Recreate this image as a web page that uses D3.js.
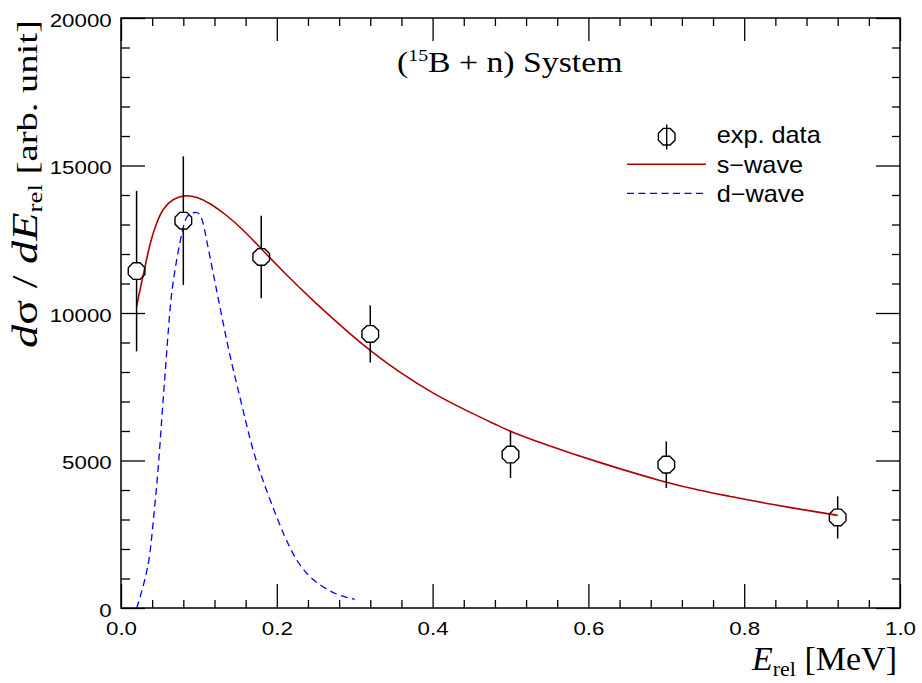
<!DOCTYPE html>
<html>
<head>
<meta charset="utf-8">
<script src="https://cdn.jsdelivr.net/npm/d3@7"></script>
<style>
  html, body { margin: 0; padding: 0; background: #fff; }
  svg { display: block; }
</style>
</head>
<body>
<svg id="chart" width="922" height="683"></svg>
<script>
// ---------------- data ----------------
const expX   = [0.02, 0.08, 0.18, 0.32, 0.50, 0.70, 0.92];
const expY   = [11420, 13130, 11900, 9290, 5200, 4860, 3070];
const expErr = [2720, 2180, 1400, 970, 790, 790, 715];

const sWaveX = [0.020, 0.0244, 0.0308, 0.0372, 0.0458, 0.0542, 0.0671, 0.0821, 0.0971, 0.1141,
                0.1355, 0.1568, 0.1760, 0.2081, 0.2509, 0.2936, 0.3201, 0.3577, 0.4004, 0.4432,
                0.4859, 0.5000, 0.5458, 0.6099, 0.6996, 0.7423, 0.7808, 0.8278, 0.9200];
const sWaveY = [10214, 10800, 11550, 12380, 13080, 13560, 13880, 14000, 13940, 13730,
                13320, 12820, 12290, 11400, 10300, 9300, 8720, 7980, 7270, 6690,
                6160, 5980, 5530, 4960, 4250, 3990, 3790, 3540, 3140];

const dWaveX = [0.0201, 0.0222, 0.0308, 0.0372, 0.0415, 0.0479, 0.0521, 0.0564, 0.0628, 0.0671,
                0.0735, 0.0799, 0.0842, 0.0949, 0.1034, 0.1098, 0.1184, 0.1269, 0.1355, 0.1440,
                0.1568, 0.1696, 0.1910, 0.2167, 0.2337, 0.2509, 0.2765, 0.3000];
const dWaveY = [0, 159, 949, 1739, 2983, 4678, 6373, 7841, 10214, 11119,
                12136, 12925, 13322, 13434, 13379, 12475, 11346, 10214, 9085, 8068,
                6712, 5244, 3661, 1966, 1288, 837, 441, 294];

const xTicks = [0, 0.2, 0.4, 0.6, 0.8, 1.0];
const xTickLabels = ["0.0", "0.2", "0.4", "0.6", "0.8", "1.0"];
const yTicks = [0, 5000, 10000, 15000, 20000];
const yTickLabels = ["0", "5000", "10000", "15000", "20000"];
const legendLabels = ["exp. data", "s\u2212wave", "d\u2212wave"];

// ---------------- setup ----------------
const svg = d3.select("#chart");
svg.append("rect").attr("width", 922).attr("height", 683).attr("fill", "#fff");

const pL = 121, pR = 900, pT = 18, pB = 608;
const x = d3.scaleLinear().domain([0, 1]).range([pL, pR]);
const y = d3.scaleLinear().domain([0, 20000]).range([pB, pT]);

const sansFont = "'Liberation Sans', Arial, Helvetica, sans-serif";
const serifFont = "'Liberation Serif', 'Times New Roman', Times, serif";

const xMinor = d3.range(0, 1.0001, 0.04).filter(v => Math.abs(v / 0.2 - Math.round(v / 0.2)) > 1e-6);
const yMinor = d3.range(0, 20001, 1000).filter(v => v % 5000 !== 0);

function styleAxis(g) {
  g.select(".domain").remove();
  g.selectAll(".tick line").attr("stroke", "#000").attr("stroke-width", 1.3);
}

// bottom axis (major with labels)
const gBottom = svg.append("g").attr("transform", `translate(0,${pB})`)
  .call(d3.axisBottom(x).tickValues(xTicks).tickSize(-24).tickPadding(14.2)
    .tickFormat((d, i) => xTickLabels[i]));
styleAxis(gBottom);
gBottom.selectAll(".tick text").attr("font-family", sansFont).attr("font-size", 18)
  .attr("fill", "#000").attr("transform", "scale(1.24,1)");
svg.append("g").attr("transform", `translate(0,${pB})`)
  .call(d3.axisBottom(x).tickValues(xMinor).tickSize(-8).tickFormat("")).call(styleAxis);

// top axis
svg.append("g").attr("transform", `translate(0,${pT})`)
  .call(d3.axisTop(x).tickValues(xTicks).tickSize(-23).tickFormat("")).call(styleAxis);
svg.append("g").attr("transform", `translate(0,${pT})`)
  .call(d3.axisTop(x).tickValues(xMinor).tickSize(-8).tickFormat("")).call(styleAxis);

// left axis
const gLeft = svg.append("g").attr("transform", `translate(${pL},0)`)
  .call(d3.axisLeft(y).tickValues(yTicks).tickSize(-24).tickPadding(7.5)
    .tickFormat((d, i) => yTickLabels[i]));
styleAxis(gLeft);
gLeft.selectAll(".tick text").attr("font-family", sansFont).attr("font-size", 18)
  .attr("fill", "#000").attr("dy", "0.45em").attr("transform", "scale(1.24,1)");
svg.append("g").attr("transform", `translate(${pL},0)`)
  .call(d3.axisLeft(y).tickValues(yMinor).tickSize(-9).tickFormat("")).call(styleAxis);

// right axis
svg.append("g").attr("transform", `translate(${pR},0)`)
  .call(d3.axisRight(y).tickValues(yTicks).tickSize(-24).tickFormat("")).call(styleAxis);
svg.append("g").attr("transform", `translate(${pR},0)`)
  .call(d3.axisRight(y).tickValues(yMinor).tickSize(-8).tickFormat("")).call(styleAxis);

// frame
svg.append("rect").attr("x", pL).attr("y", pT).attr("width", pR - pL).attr("height", pB - pT)
  .attr("fill", "none").attr("stroke", "#000").attr("stroke-width", 1.5);

// ---------------- curves ----------------
const line = d3.line().x(d => x(d[0])).y(d => y(d[1])).curve(d3.curveBasis);
svg.append("path").datum(dWaveX.map((v, i) => [v, dWaveY[i]]))
  .attr("d", line).attr("fill", "none").attr("stroke", "#0000ff")
  .attr("stroke-width", 1.3).attr("stroke-dasharray", "7,4.5");
svg.append("path").datum(sWaveX.map((v, i) => [v, sWaveY[i]]))
  .attr("d", line).attr("fill", "none").attr("stroke", "#b00000").attr("stroke-width", 1.6);

// ---------------- data points ----------------
const R = 9.0;
const flat = R * Math.cos(Math.PI / 8);
function octagon(r) {
  const p = d3.range(8).map(k => {
    const a = Math.PI / 8 + k * Math.PI / 4;
    return [r * Math.cos(a), r * Math.sin(a)];
  });
  return "M" + p.map(q => q.join(",")).join("L") + "Z";
}
const ptsG = svg.append("g");
expX.forEach((xv, i) => {
  const cx = x(xv), cy = y(expY[i]);
  const yt = y(expY[i] + expErr[i]), yb = y(expY[i] - expErr[i]);
  ptsG.append("line").attr("x1", cx).attr("x2", cx).attr("y1", yt).attr("y2", cy - flat)
    .attr("stroke", "#000").attr("stroke-width", 1.5);
  ptsG.append("line").attr("x1", cx).attr("x2", cx).attr("y1", cy + flat).attr("y2", yb)
    .attr("stroke", "#000").attr("stroke-width", 1.5);
  ptsG.append("path").attr("d", octagon(R)).attr("transform", `translate(${cx},${cy})`)
    .attr("fill", "none").attr("stroke", "#000").attr("stroke-width", 1.4);
});

// ---------------- legend ----------------
const lg = svg.append("g");
lg.append("line").attr("x1", 666.7).attr("x2", 666.7).attr("y1", 124.5).attr("y2", 149.5)
  .attr("stroke", "#000").attr("stroke-width", 1.4);
lg.append("path").attr("d", octagon(R)).attr("transform", "translate(666.7,136.7)")
  .attr("fill", "none").attr("stroke", "#000").attr("stroke-width", 1.4);
lg.append("line").attr("x1", 627).attr("x2", 706).attr("y1", 164.3).attr("y2", 164.3)
  .attr("stroke", "#b00000").attr("stroke-width", 1.6);
lg.append("line").attr("x1", 627).attr("x2", 706).attr("y1", 193.3).attr("y2", 193.3)
  .attr("stroke", "#0000ff").attr("stroke-width", 1.3).attr("stroke-dasharray", "7,4.5");
const lgY = [143, 172.5, 201.5];
legendLabels.forEach((t, i) => {
  lg.append("g").attr("transform", `translate(716.7,${lgY[i]})`)
    .append("text").attr("font-family", sansFont).attr("font-size", 23).attr("fill", "#000")
    .attr("transform", "scale(1.1,1)").text(t);
});

// ---------------- titles ----------------
function fitWidth(textSel, target) {
  const w = textSel.node().getBBox().width;
  textSel.attr("transform", `scale(${target / w},1)`);
}

// main title
const tg = svg.append("g").attr("transform", "translate(397,72)");
const tt = tg.append("text").attr("font-family", serifFont).attr("font-size", 29).attr("fill", "#000");
tt.append("tspan").text("(");
tt.append("tspan").attr("font-size", 17).attr("dy", -11).text("15");
tt.append("tspan").attr("dy", 11).text("B + n) System");
fitWidth(tt, 226);

// x label
const xl = svg.append("text").attr("x", 897).attr("y", 670).attr("text-anchor", "end")
  .attr("font-family", serifFont).attr("font-size", 34).attr("fill", "#000");
xl.append("tspan").attr("font-style", "italic").text("E");
xl.append("tspan").attr("font-size", 22).attr("dy", 6).text("rel");
xl.append("tspan").attr("dy", -6).text(" [MeV]");

// y label
const yg = svg.append("g").attr("transform", "translate(37,348) rotate(-90)");
const yl = yg.append("text").attr("font-family", serifFont).attr("font-size", 36).attr("fill", "#000");
yl.append("tspan").attr("font-style", "italic").text("d");
yl.append("tspan").text("\u03c3");
yl.append("tspan").text(" / ");
yl.append("tspan").attr("font-style", "italic").text("dE");
yl.append("tspan").attr("font-size", 21).attr("dy", 5).text("rel");
yl.append("tspan").attr("font-size", 30).attr("dy", -5).text(" [arb. unit]");
fitWidth(yl, 328);
</script>
</body>
</html>
